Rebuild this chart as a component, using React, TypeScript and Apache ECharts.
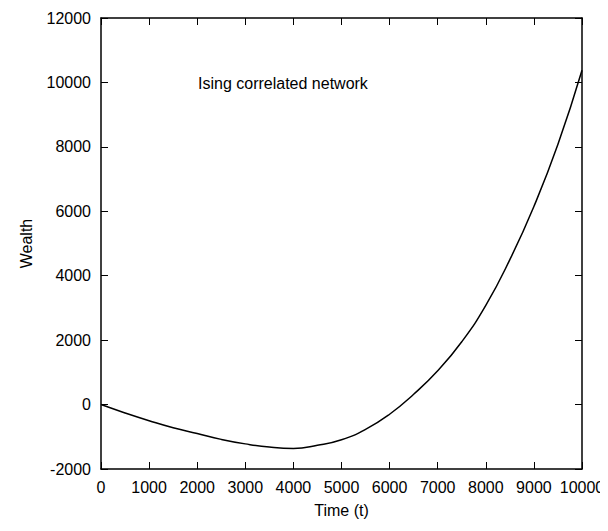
import React, { useEffect, useRef } from "react";
import * as echarts from "echarts";

const timeValues = [0, 500, 1000, 1500, 2000, 2500, 3000, 3500, 4000, 4500, 5000, 5500, 6000, 6500, 7000, 7500, 8000, 8500, 9000, 9500, 10000];
const wealthValues = [0, -260, -500, -720, -900, -1080, -1220, -1320, -1362, -1265, -1090, -770, -300, 320, 1050, 1950, 3080, 4500, 6150, 8080, 10380];
const xTicks = { min: 0, max: 10000, interval: 1000 };
const yTicks = { min: -2000, max: 12000, interval: 2000 };
const annotation = "Ising correlated network";
const xName = "Time (t)";
const yName = "Wealth";

export default function App() {
  const ref = useRef<HTMLDivElement>(null);
  useEffect(() => {
    if (!ref.current) return;
    const chart = echarts.init(ref.current, null, { renderer: "svg" });
    const font = "Liberation Sans, Arial, sans-serif";
    const fs = 16;
    const axisCommon = {
      axisLine: { show: true, onZero: false, lineStyle: { color: "#000", width: 1.5 } },
      axisTick: { show: true, inside: true, length: 7, lineStyle: { color: "#000", width: 1 } },
      splitLine: { show: false },
    };
    const fmt = (v: number) => String(v);
    chart.setOption({
      animation: false,
      backgroundColor: "#fff",
      grid: { left: 101, right: 26, top: 18, bottom: 62, containLabel: false },
      graphic: [
        {
          type: "text",
          left: 198,
          top: 75,
          style: { text: annotation, font: `${fs}px ${font}`, fill: "#000" },
        },
      ],
      xAxis: [
        {
          type: "value",
          position: "bottom",
          ...xTicks,
          ...axisCommon,
          axisLabel: { color: "#000", fontSize: fs, fontFamily: font, margin: 10, formatter: fmt },
          name: xName,
          nameLocation: "middle",
          nameGap: 33,
          nameTextStyle: { color: "#000", fontSize: fs, fontFamily: font },
        },
        {
          type: "value",
          position: "top",
          ...xTicks,
          ...axisCommon,
          axisLabel: { show: false },
        },
      ],
      yAxis: [
        {
          type: "value",
          position: "left",
          ...yTicks,
          ...axisCommon,
          axisLabel: { color: "#000", fontSize: fs, fontFamily: font, margin: 10, formatter: fmt },
          name: yName,
          nameLocation: "middle",
          nameGap: 67,
          nameTextStyle: { color: "#000", fontSize: fs, fontFamily: font },
        },
        {
          type: "value",
          position: "right",
          ...yTicks,
          ...axisCommon,
          axisLabel: { show: false },
        },
      ],
      series: [
        {
          type: "line",
          data: timeValues.map((t, i) => [t, wealthValues[i]]),
          smooth: 0.5,
          showSymbol: false,
          lineStyle: { color: "#000", width: 1.5 },
          clip: true,
        },
      ],
    });
    return () => chart.dispose();
  }, []);
  return <div ref={ref} style={{ width: 608, height: 531, margin: -8 }} />;
}
